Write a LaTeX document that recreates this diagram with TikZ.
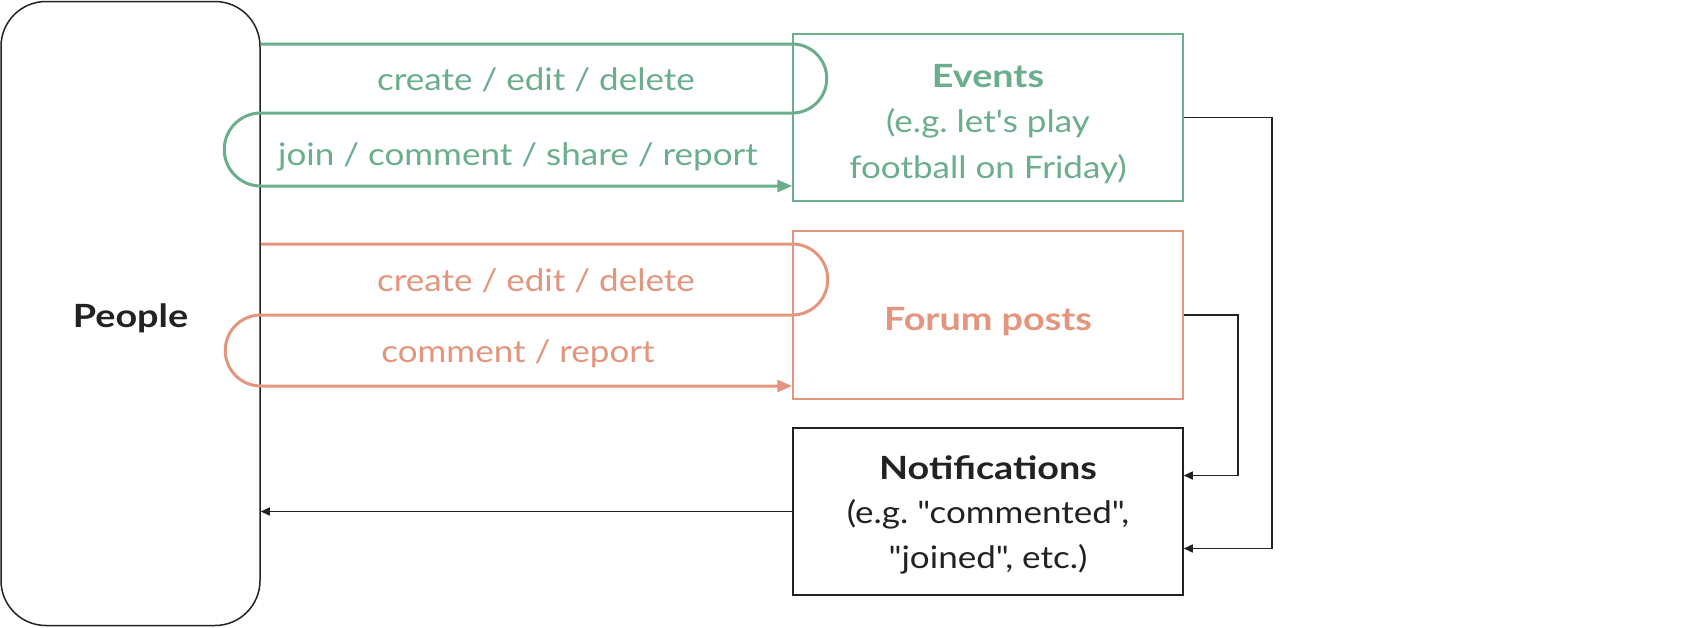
\documentclass[tikz,border=0pt]{standalone}
\usepackage{fontspec}
\setmainfont{Lato}[Ligatures=TeXOff, FakeStretch=1.13, BoldFeatures={FakeStretch=1.18}]
\usetikzlibrary{arrows.meta,calc}
\definecolor{evgreen}{RGB}{106,174,140}
\definecolor{fporange}{RGB}{227,150,125}
\definecolor{ink}{RGB}{34,34,34}
\frenchspacing
\begin{document}
\begin{tikzpicture}[x=1pt,y=-1pt,
  txt/.style={font=\fontsize{31}{45.5}\selectfont, inner sep=0pt, align=center},
  ttl/.style={font=\fontsize{32}{45.5}\selectfont\bfseries, inner sep=0pt, align=center},
  box/.style={draw, line width=1.5pt, minimum width=390pt, inner sep=0pt, align=center, font=\fontsize{31}{45.5}\selectfont},
  gline/.style={draw=evgreen, line width=3pt, -{Triangle[length=15pt,width=12pt]}},
  oline/.style={draw=fporange, line width=3pt, -{Triangle[length=15pt,width=12pt]}},
  conn/.style={draw=ink, line width=1.5pt, -{Triangle[length=9pt,width=8pt]}}]
\useasboundingbox (0,0) rectangle (1694,627);
\fill[white] (0,0) rectangle (1694,627);
% boxes
\node[draw=ink, line width=1.5pt, rounded corners=45pt, minimum width=259pt, minimum height=624pt, inner sep=0pt] (people) at (130.5,313.5) {};
\node[ttl, text=ink] (peoplelbl) at (130.5,318) {People};
\node[box, draw=evgreen, minimum height=167pt, text=evgreen] (events) at (988,117.5) {};
\node[box, draw=fporange, minimum height=168pt, text=fporange] (forum) at (988,315) {};
\node[box, draw=ink, minimum height=167pt, text=ink] (notif) at (988,511.5) {};
% box texts
\node[ttl, text=evgreen] (evt1) at (988,76) {Events};
\node[txt, text=evgreen] (evt2) at (988,146) {(e.g. let's play\\football on Friday)};
\node[ttl, text=fporange] (fpt) at (988,322) {Forum posts};
\node[ttl, text=ink] (nt1) at (988,468) {Notifications};
\node[txt, text=ink] (nt2) at (988,537) {(e.g. "commented",\\"joined", etc.)};
% loop coordinates
\coordinate (gA) at (0,44);
\coordinate (gB) at (0,113);
\coordinate (gC) at (0,186);
\coordinate (oA) at (0,244);
\coordinate (oB) at (0,315);
\coordinate (oC) at (0,386);
% green loop
\draw[gline] (people.east |- gA) -- (events.west |- gA)
  arc[start angle=90, end angle=-90, radius=34.5pt]
  -- (people.east |- gB)
  arc[start angle=90, end angle=270, radius=36.5pt]
  -- (events.west |- gC);
% orange loop
\draw[oline] (people.east |- oA) -- (forum.west |- oA)
  arc[start angle=90, end angle=-90, radius=35.5pt]
  -- (people.east |- oB)
  arc[start angle=90, end angle=270, radius=35.5pt]
  -- (forum.west |- oC);
% labels
\node[txt, text=evgreen] (g1) at (536,80) {create / edit / delete};
\node[txt, text=evgreen] (g2) at (518,157) {join / comment / share / report};
\node[txt, text=fporange] (o1) at (536,281) {create / edit / delete};
\node[txt, text=fporange] (o2) at (518,354) {comment / report};
% black connectors
\draw[conn] (events.east) -- ++(88,0) |- ($(notif.east)+(0,37)$);
\draw[conn] (forum.east) -- ++(54,0) |- ($(notif.east)+(0,-36)$);
\draw[conn] (notif.west) -- (notif.west -| people.east);
\end{tikzpicture}
\end{document}
